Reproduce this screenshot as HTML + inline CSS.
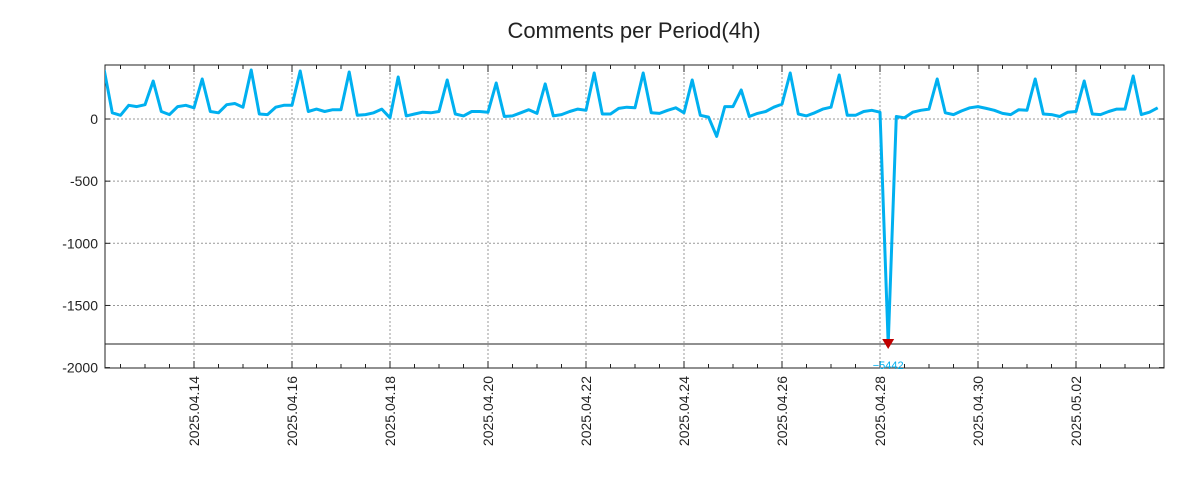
<!DOCTYPE html>
<html><head><meta charset="utf-8"><style>
body{margin:0;background:#fff;}
svg{display:block;font-family:"Liberation Sans","DejaVu Sans",sans-serif;}
</style></head><body>
<svg id="chart" width="1200" height="500">
<text x="634" y="38" text-anchor="middle" font-size="22" fill="#222">Comments per Period(4h)</text>
<g id="grid"></g>
<g id="axes"></g>
<g id="series"></g>
</svg>
<script>
const yTicks=[0,-500,-1000,-1500,-2000];
const xTickLabels=["2025.04.14","2025.04.16","2025.04.18","2025.04.20","2025.04.22","2025.04.24","2025.04.26","2025.04.28","2025.04.30","2025.05.02"];
const xTickDays=[2,4,6,8,10,12,14,16,18,20];
const startDay=4/24;
const values=[
394,50,30,110,100,115,
306,60,35,100,110,90,
322,60,50,115,125,95,
394,40,35,95,110,110,
386,60,80,60,75,75,
378,30,35,50,80,10,
338,25,40,55,50,60,
314,40,25,60,60,55,
290,20,25,50,75,45,
282,25,35,60,80,70,
370,40,40,85,95,90,
370,50,45,70,90,50,
314,30,15,-140,100,100,
233,20,45,60,95,120,
370,40,25,50,80,95,
354,30,30,60,70,55,
-5442,20,10,55,70,80,
322,50,35,65,90,100,
85,70,45,35,75,70,
322,40,35,20,55,60,
306,40,35,60,80,80,
346,35,55,90];
const floorValue=-1810;
const L=105,R=1164,T=65,B=368;
const xs=d=>194+(d-2)*49.0;
const ys=v=>119-v*0.1243;
const NS="http://www.w3.org/2000/svg";
function mk(tag,attrs,parent){const e=document.createElementNS(NS,tag);for(const k in attrs)e.setAttribute(k,attrs[k]);parent.appendChild(e);return e;}
const grid=document.getElementById('grid'),axes=document.getElementById('axes'),ser=document.getElementById('series');
yTicks.forEach(v=>{
 const y=ys(v);
 if(v>-2000){const g=mk('line',{x1:L,x2:R,y1:y,y2:y,stroke:'#999','stroke-dasharray':'2,2'},grid);
 
 }
 const t=mk('text',{x:L-7,y:y+5,'text-anchor':'end','font-size':'14',fill:'#222'},axes);
 t.textContent=String(v).replace('-','-');
 
 
 mk('line',{x1:L,x2:L+5,y1:y,y2:y,stroke:'#222'},axes);
 mk('line',{x1:R,x2:R-5,y1:y,y2:y,stroke:'#222'},axes);
});
for(let d=0;d<=22;d+=0.5){const x=xs(d);if(x<L||x>R)continue;
 mk('line',{x1:x,x2:x,y1:T,y2:T+4,stroke:'#222'},axes);
 mk('line',{x1:x,x2:x,y1:B,y2:B-4,stroke:'#222'},axes);}
xTickDays.forEach((d,i)=>{
 const x=xs(d);
 const g=mk('line',{x1:x,x2:x,y1:T,y2:B,stroke:'#999','stroke-dasharray':'2,2'},grid);
 
 
 mk('line',{x1:x,x2:x,y1:T,y2:T+7,stroke:'#222'},axes);
 mk('line',{x1:x,x2:x,y1:B,y2:B-7,stroke:'#222'},axes);
 const t=mk('text',{x:0,y:0,'text-anchor':'end','font-size':'14',fill:'#222',transform:`translate(${x+5},${B+8}) rotate(-90)`},axes);
 t.textContent=xTickLabels[i];
 
 
});
mk('rect',{x:L,y:T,width:R-L,height:B-T,fill:'none',stroke:'#222','stroke-width':1},axes);
const fl=mk('line',{x1:L,x2:R,y1:ys(floorValue),y2:ys(floorValue),stroke:'#222','stroke-width':1},axes);


const cp=mk('clipPath',{id:'pc'},ser);mk('rect',{x:L,y:T,width:R-L,height:B-T},cp);
let pts=values.map((v,i)=>[xs(startDay+i/6),ys(Math.max(v,floorValue))]);
const pl=mk('polyline',{points:pts.map(p=>p[0].toFixed(1)+','+p[1].toFixed(1)).join(' '),fill:'none',stroke:'#00b0f0','stroke-width':3,'stroke-linejoin':'round','clip-path':'url(#pc)'},ser);


values.forEach((v,i)=>{if(v<floorValue){
 const x=xs(startDay+i/6),y=ys(floorValue);
 const m=mk('path',{d:`M${x-6},${y-5} L${x+6},${y-5} L${x},${y+5} Z`,fill:'#c00000'},ser);
 
 
 const t=mk('text',{x:x,y:y+25,'text-anchor':'middle','font-size':'11',fill:'#00b0f0'},ser);
 t.textContent='\u2212'+Math.abs(v);
 
 
}});
</script>
</body></html>
